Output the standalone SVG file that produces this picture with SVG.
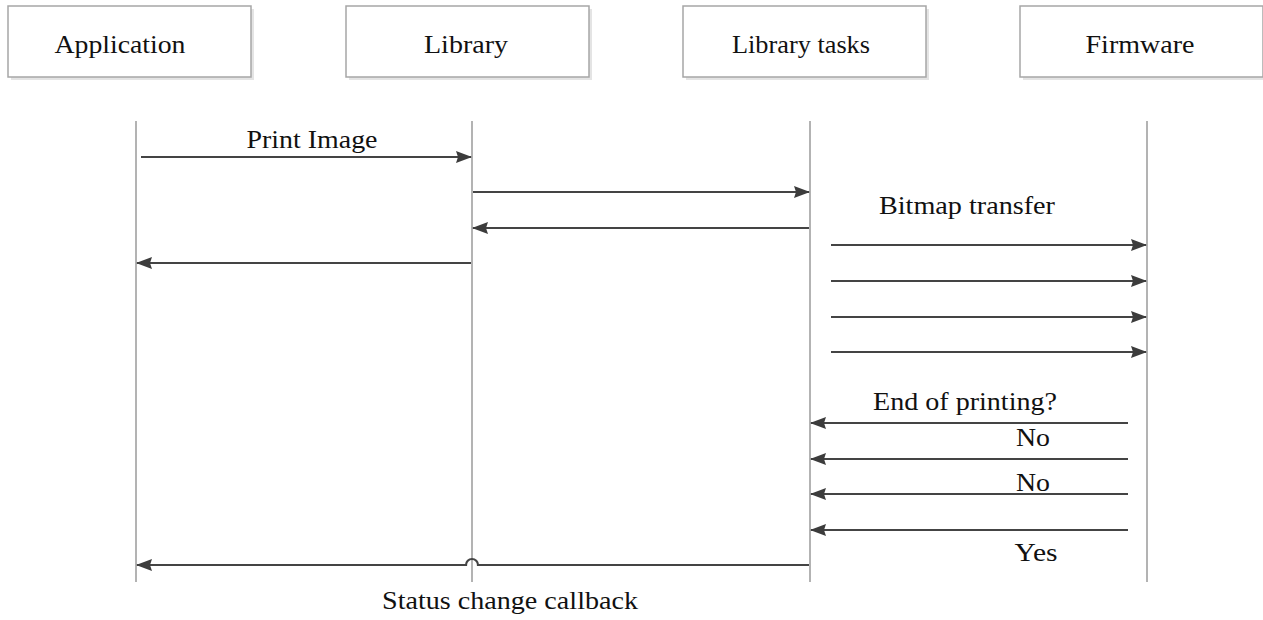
<svg xmlns="http://www.w3.org/2000/svg" width="1263" height="620" viewBox="0 0 1263 620">
<defs>
<style>
.box{fill:#fff;stroke:#a6a6a6;stroke-width:1.5}
.shadow{fill:#e4e4e4}
.t{font-family:'Liberation Serif','DejaVu Serif','Times New Roman',Times,serif;font-size:25px;fill:#111;text-anchor:middle}
.life{stroke:#9a9a9a;stroke-width:1.5;fill:none}
.msg{stroke:#444;stroke-width:2.2;fill:none;marker-end:url(#ah)}
</style>
<marker id="ah" markerUnits="userSpaceOnUse" markerWidth="16" markerHeight="14" refX="15" refY="7" orient="auto">
<path d="M0,1 L16,7 L0,13 L2,7 Z" fill="#3c3c3c"/>
</marker>
</defs>
<rect width="1263" height="620" fill="#fff"/>
<g id="application">
<rect class="shadow" x="11" y="9" width="243" height="71"/>
<rect class="box" x="8" y="6" width="243" height="71"/>
<text class="t" x="120" y="53" textLength="131" lengthAdjust="spacingAndGlyphs">Application</text>
</g>
<g id="library">
<rect class="shadow" x="349" y="9" width="243" height="71"/>
<rect class="box" x="346" y="6" width="243" height="71"/>
<text class="t" x="466" y="53" textLength="84" lengthAdjust="spacingAndGlyphs">Library</text>
</g>
<g id="library-tasks">
<rect class="shadow" x="686" y="9" width="243" height="71"/>
<rect class="box" x="683" y="6" width="243" height="71"/>
<text class="t" x="801" y="53" textLength="138" lengthAdjust="spacingAndGlyphs">Library tasks</text>
</g>
<g id="firmware">
<rect class="shadow" x="1023" y="9" width="243" height="71"/>
<rect class="box" x="1020" y="6" width="243" height="71"/>
<text class="t" x="1140" y="53" textLength="109" lengthAdjust="spacingAndGlyphs">Firmware</text>
</g>
<g id="lifelines">
<line class="life" x1="136" y1="121" x2="136" y2="582"/>
<line class="life" x1="472" y1="121" x2="472" y2="582"/>
<line class="life" x1="810" y1="121" x2="810" y2="582"/>
<line class="life" x1="1147" y1="121" x2="1147" y2="582"/>
</g>
<g id="connectors">
<line class="msg" x1="141" y1="157" x2="471" y2="157"/>
<line class="msg" x1="473" y1="192" x2="809" y2="192"/>
<line class="msg" x1="809" y1="228" x2="473" y2="228"/>
<line class="msg" x1="471" y1="263" x2="137" y2="263"/>
<line class="msg" x1="831" y1="245" x2="1146" y2="245"/>
<line class="msg" x1="831" y1="281" x2="1146" y2="281"/>
<line class="msg" x1="831" y1="317" x2="1146" y2="317"/>
<line class="msg" x1="831" y1="352" x2="1146" y2="352"/>
<line class="msg" x1="1128" y1="423" x2="811" y2="423"/>
<line class="msg" x1="1128" y1="459" x2="811" y2="459"/>
<line class="msg" x1="1128" y1="494" x2="811" y2="494"/>
<line class="msg" x1="1128" y1="530" x2="811" y2="530"/>
<path class="msg" d="M809,565 L478,565 A6,6 0 0 0 466,565 L137,565"/>
</g>
<g id="labels">
<text class="t" x="312" y="148" textLength="131" lengthAdjust="spacingAndGlyphs">Print Image</text>
<text class="t" x="967" y="214" textLength="176" lengthAdjust="spacingAndGlyphs">Bitmap transfer</text>
<text class="t" x="965" y="410" textLength="184" lengthAdjust="spacingAndGlyphs">End of printing?</text>
<text class="t" x="1033" y="446" textLength="34" lengthAdjust="spacingAndGlyphs">No</text>
<text class="t" x="1033" y="491" textLength="34" lengthAdjust="spacingAndGlyphs">No</text>
<text class="t" x="1036" y="561" textLength="43" lengthAdjust="spacingAndGlyphs">Yes</text>
<text class="t" x="510" y="609" textLength="256" lengthAdjust="spacingAndGlyphs">Status change callback</text>
</g>
</svg>
